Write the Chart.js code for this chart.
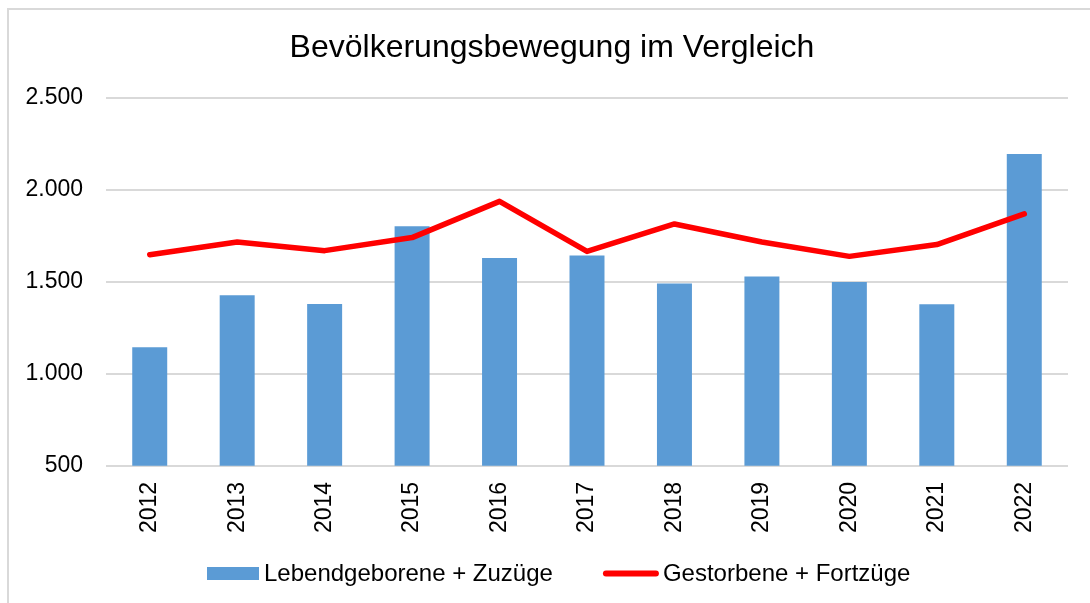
<!DOCTYPE html>
<html lang="de">
    <head>
        <meta charset="utf-8" />
        <title>Bevölkerungsbewegung im Vergleich</title>
        <script src="https://cdn.jsdelivr.net/npm/chart.js@4.4.1/dist/chart.umd.min.js"></script>
        <style>
            html, body { margin: 0; padding: 0; background: #fff; }
            body { width: 1090px; height: 603px; position: relative; overflow: hidden; }
            .frame {
                position: absolute; left: 7px; top: 8px;
                width: 1200px; height: 700px;
                border: 2px solid #d9d9d9;
            }
            .chart-box { position: absolute; left: 0; top: 0; width: 1090px; height: 603px; }
        </style>
    </head>
    <body>
        <div class="frame"></div>
        <div class="chart-box">
            <canvas id="chart_bewegung"></canvas>
        </div>

        <script>
            // Werte
            const years = ["2012", "2013", "2014", "2015", "2016", "2017", "2018", "2019", "2020", "2021", "2022"];
            const zugang = [1145, 1427, 1380, 1802, 1630, 1643, 1492, 1529, 1500, 1378, 2196];
            const abgang = [1648, 1717, 1670, 1741, 1938, 1666, 1815, 1717, 1639, 1703, 1870];
            const yTicks = [500, 1000, 1500, 2000, 2500];
            const chartTitle = "Bevölkerungsbewegung im Vergleich";

            const FONT = "'Liberation Sans', Arial, sans-serif";
            const fmt = (v) => String(v).replace(/\B(?=(\d{3})+(?!\d))/g, ".");

            // Titel und Legende selbst gezeichnet, damit sie wie im Original sitzen
            const decorPlugin = {
                id: "decor",
                afterDraw(chart) {
                    const ctx = chart.ctx;
                    const ds = chart.data.datasets;
                    ctx.save();

                    ctx.fillStyle = "#000";
                    ctx.font = "32px " + FONT;
                    ctx.textAlign = "center";
                    ctx.textBaseline = "alphabetic";
                    ctx.fillText(chartTitle, 552, 57);

                    const y = 573.5;
                    let x = 207;
                    ctx.font = "24px " + FONT;
                    ctx.textAlign = "left";
                    ctx.textBaseline = "middle";

                    // Balken
                    ctx.fillStyle = ds[0].backgroundColor;
                    ctx.fillRect(x, y - 6.5, 52, 13);
                    x += 57;
                    ctx.fillStyle = "#000";
                    ctx.fillText(ds[0].label, x, y + 1);
                    x += ctx.measureText(ds[0].label).width + 50;

                    // Linie
                    ctx.strokeStyle = ds[1].borderColor;
                    ctx.lineWidth = 6;
                    ctx.lineCap = "round";
                    ctx.beginPath();
                    ctx.moveTo(x + 3, y);
                    ctx.lineTo(x + 53, y);
                    ctx.stroke();
                    x += 60;
                    ctx.fillText(ds[1].label, x, y + 1);
                    ctx.restore();
                },
            };

            new Chart(document.getElementById("chart_bewegung"), {
                data: {
                    labels: years,
                    datasets: [
                        {
                            type: "bar",
                            label: "Lebendgeborene + Zuzüge",
                            data: zugang,
                            backgroundColor: "#5b9bd5",
                            borderWidth: 0,
                            barPercentage: 0.4,
                            categoryPercentage: 1.0,
                            order: 1,
                        },
                        {
                            type: "line",
                            label: "Gestorbene + Fortzüge",
                            data: abgang,
                            borderColor: "#ff0000",
                            backgroundColor: "#ff0000",
                            borderWidth: 5.5,
                            borderCapStyle: "round",
                            borderJoinStyle: "round",
                            pointRadius: 0,
                            pointHoverRadius: 0,
                            tension: 0,
                            fill: false,
                            order: 0,
                        },
                    ],
                },
                options: {
                    responsive: true,
                    maintainAspectRatio: false,
                    animation: false,
                    layout: {
                        padding: { left: 0, right: 22, top: 98, bottom: 54 },
                    },
                    plugins: {
                        legend: { display: false },
                        tooltip: { enabled: false },
                        title: { display: false },
                    },
                    scales: {
                        x: {
                            grid: { display: false, drawTicks: false },
                            border: { display: false },
                            ticks: {
                                color: "#000",
                                font: { family: FONT, size: 23 },
                                minRotation: 90,
                                maxRotation: 90,
                                padding: 16,
                            },
                        },
                        y: {
                            min: 500,
                            max: 2500,
                            afterBuildTicks: (scale) => {
                                scale.ticks = yTicks.map((v) => ({ value: v }));
                            },
                            afterFit: (scale) => {
                                scale.width = 106;
                            },
                            grid: {
                                color: "#d9d9d9",
                                lineWidth: 2,
                                drawTicks: false,
                            },
                            border: { display: false },
                            ticks: {
                                color: "#000",
                                font: { family: FONT, size: 23 },
                                padding: 23,
                                callback: (v) => fmt(v),
                            },
                        },
                    },
                },
                plugins: [decorPlugin],
            });
        </script>
    </body>
</html>
